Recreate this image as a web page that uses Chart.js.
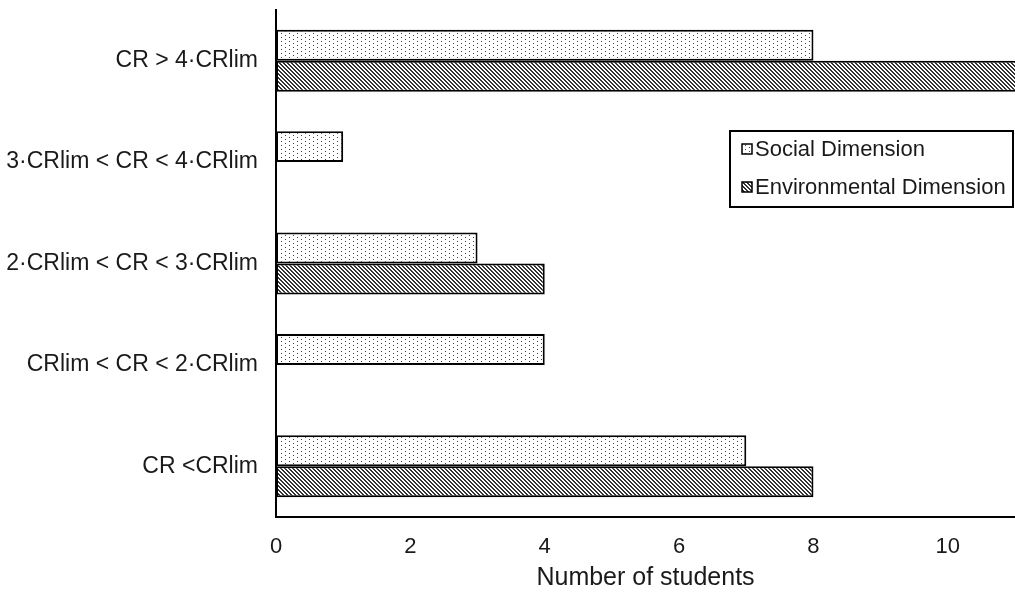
<!DOCTYPE html>
<html>
<head>
<meta charset="utf-8">
<script src="https://cdn.jsdelivr.net/npm/chart.js@4/dist/chart.umd.min.js"></script>
<style>
	body { margin: 0; background: #fff; }
	canvas { display: block; }
</style>
</head>
<body>
<canvas id="chart" width="1015" height="593"></canvas>
<script>
const categories = [
	'CR > 4·CRlim',
	'3·CRlim < CR < 4·CRlim',
	'2·CRlim < CR < 3·CRlim',
	'CRlim < CR < 2·CRlim',
	'CR <CRlim',
];
const socialValues = [8, 1, 3, 4, 7];
const environmentalValues = [11, 0, 4, 0, 8];
const xTicks = [0, 2, 4, 6, 8, 10];
const xMax = 11;

const font = '"Liberation Sans", Arial, sans-serif';
const textColor = '#1a1a1a';

// fill patterns like the old excel ones
const makeDots = () => {
	const c = document.createElement('canvas');
	c.width = 8;
	c.height = 8;
	const g = c.getContext('2d');
	g.fillStyle = '#fff';
	g.fillRect(0, 0, 8, 8);
	g.fillStyle = '#444';
	[[1, 1], [5, 3], [1, 5], [5, 7]].forEach(([x, y]) => g.fillRect(x, y, 1, 1));
	return g.createPattern(c, 'repeat');
};
const makeHatch = () => {
	const c = document.createElement('canvas');
	c.width = 4;
	c.height = 4;
	const g = c.getContext('2d');
	g.fillStyle = '#fff';
	g.fillRect(0, 0, 4, 4);
	g.fillStyle = '#333';
	for (let y = 0; y < 4; y++) {
		for (let x = 0; x < 4; x++) {
			if ((x - y + 8) % 4 < 2) g.fillRect(x, y, 1, 1);
		}
	}
	return g.createPattern(c, 'repeat');
};

const dots = makeDots();
const hatch = makeHatch();

const legendBox = {
	id: 'legendBox',
	afterDraw(chart) {
		const ctx = chart.ctx;
		const x = 730, y = 131, w = 283, h = 76;
		ctx.save();
		ctx.fillStyle = '#fff';
		ctx.fillRect(x, y, w, h);
		ctx.lineWidth = 2;
		ctx.strokeStyle = '#000';
		ctx.strokeRect(x, y, w, h);
		ctx.font = '22px ' + font;
		ctx.textBaseline = 'middle';
		chart.data.datasets.forEach((ds, i) => {
			const cy = y + 18 + i * 38;
			ctx.fillStyle = ds.backgroundColor;
			ctx.fillRect(x + 12, cy - 5, 10, 10);
			ctx.lineWidth = 1.5;
			ctx.strokeRect(x + 12, cy - 5, 10, 10);
			ctx.fillStyle = textColor;
			ctx.fillText(ds.label, x + 25, cy + 1);
		});
		ctx.restore();
	},
};

// bar running off the right edge gets no end border
const barBorder = (c) => (c.raw >= xMax ? { top: 2, bottom: 2, left: 2, right: 0 } : 2);

new Chart(document.getElementById('chart'), {
	type: 'bar',
	data: {
		labels: categories,
		datasets: [
			{
				label: 'Social Dimension',
				data: socialValues,
				backgroundColor: dots,
				borderColor: '#000',
				borderWidth: barBorder,
				borderSkipped: false,
			},
			{
				label: 'Environmental Dimension',
				data: environmentalValues,
				backgroundColor: hatch,
				borderColor: '#000',
				borderWidth: barBorder,
				borderSkipped: false,
			},
		],
	},
	options: {
		indexAxis: 'y',
		responsive: false,
		animation: false,
		categoryPercentage: 0.61,
		barPercentage: 1,
		layout: { padding: { top: 10, right: 0, left: 0, bottom: 0 } },
		plugins: {
			legend: { display: false },
			tooltip: { enabled: false },
		},
		scales: {
			x: {
				min: 0,
				max: xMax,
				afterBuildTicks: (axis) => {
					axis.ticks = xTicks.map((v) => ({ value: v }));
				},
				afterFit: (axis) => {
					axis.height = 76;
					axis.paddingLeft = 0;
					axis.paddingRight = 0;
				},
				grid: { display: false, drawTicks: false },
				border: { display: true, color: '#000', width: 2 },
				ticks: {
					color: textColor,
					padding: 17,
					font: { family: font, size: 22 },
				},
				title: {
					display: true,
					text: 'Number of students',
					color: textColor,
					font: { family: font, size: 25 },
					padding: { top: 0, bottom: 0 },
				},
			},
			y: {
				afterFit: (axis) => {
					axis.width = 276;
					axis.paddingTop = 0;
					axis.paddingBottom = 0;
				},
				grid: { display: false, drawTicks: false },
				border: { display: true, color: '#000', width: 2 },
				ticks: {
					color: textColor,
					padding: 18,
					font: { family: font, size: 23 },
				},
			},
		},
	},
	plugins: [legendBox],
});
</script>
</body>
</html>
